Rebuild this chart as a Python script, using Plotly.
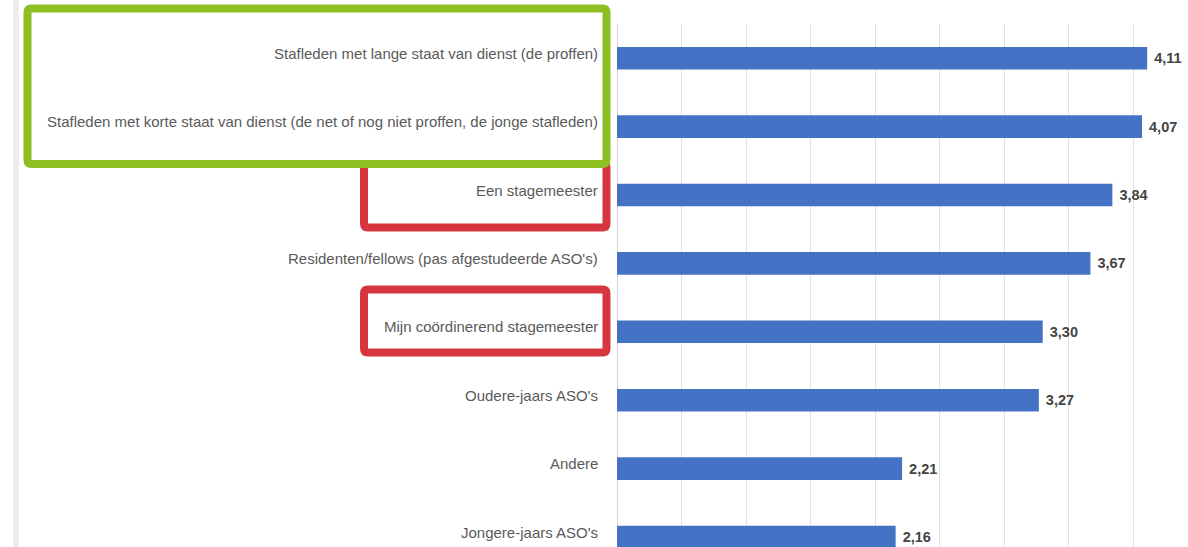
import plotly.graph_objects as go

categories = [
    "Stafleden met lange staat van dienst (de proffen)",
    "Stafleden met korte staat van dienst (de net of nog niet proffen, de jonge stafleden)",
    "Een stagemeester",
    "Residenten/fellows (pas afgestudeerde ASO's)",
    "Mijn coördinerend stagemeester",
    "Oudere-jaars ASO's",
    "Andere",
    "Jongere-jaars ASO's",
]
values = [4.11, 4.07, 3.84, 3.67, 3.30, 3.27, 2.21, 2.16]
value_labels = [" " + f"{v:.2f}".replace(".", ",") for v in values]

W, H = 1188, 547
L, T = 617, 24
PW, PH = W - L, H - T


def px(x):
    return (x - L) / PW


def py(y):
    return (H - y) / PH


def rounded_rect(x0, y0, x1, y1, r=4):
    pts = [
        f"M {px(x0 + r)},{py(y0)}",
        f"L {px(x1 - r)},{py(y0)}",
        f"Q {px(x1)},{py(y0)} {px(x1)},{py(y0 + r)}",
        f"L {px(x1)},{py(y1 - r)}",
        f"Q {px(x1)},{py(y1)} {px(x1 - r)},{py(y1)}",
        f"L {px(x0 + r)},{py(y1)}",
        f"Q {px(x0)},{py(y1)} {px(x0)},{py(y1 - r)}",
        f"L {px(x0)},{py(y0 + r)}",
        f"Q {px(x0)},{py(y0)} {px(x0 + r)},{py(y0)}",
        "Z",
    ]
    return " ".join(pts)


fig = go.Figure(
    go.Bar(
        x=values,
        y=categories,
        orientation="h",
        marker=dict(color="#4472C4", line=dict(width=0)),
        width=0.33,
        text=value_labels,
        textposition="outside",
        textfont=dict(family="Liberation Sans", size=14.5, color="#444444", weight="bold"),
        cliponaxis=False,
        hoverinfo="skip",
    )
)

annotations = [
    dict(
        xref="paper", yref="y", x=0, y=c, text=c, showarrow=False,
        xanchor="right", yanchor="middle", xshift=-17, yshift=5,
        font=dict(family="Liberation Sans", size=15, color="#5A5A5A"),
    )
    for c in categories
]

red = "#D8363E"
green = "#8DBE22"
shapes = [
    dict(type="line", xref="paper", yref="paper", x0=px(16), x1=px(16), y0=py(0), y1=py(H),
         line=dict(color="#EDEDED", width=6), layer="above"),
    dict(type="path", xref="paper", yref="paper", path=rounded_rect(364, 164, 606.5, 227.5),
         line=dict(color=red, width=8), layer="above"),
    dict(type="path", xref="paper", yref="paper", path=rounded_rect(364, 289.5, 606.5, 352.5),
         line=dict(color=red, width=8), layer="above"),
    dict(type="path", xref="paper", yref="paper", path=rounded_rect(27.5, 8.5, 606.5, 164),
         line=dict(color=green, width=8), layer="above"),
]

fig.update_layout(
    width=W,
    height=H,
    margin=dict(l=L, r=0, t=T, b=0, pad=0),
    paper_bgcolor="white",
    plot_bgcolor="white",
    showlegend=False,
    shapes=shapes,
    annotations=annotations,
    xaxis=dict(
        range=[0, PW / 129.0],
        dtick=0.5,
        tick0=0,
        showgrid=True,
        gridcolor="#E0E0E0",
        gridwidth=1,
        zeroline=True,
        zerolinecolor="#D6D6D6",
        zerolinewidth=1,
        showticklabels=False,
        ticks="",
        showline=False,
    ),
    yaxis=dict(
        type="category",
        categoryorder="array",
        categoryarray=categories,
        range=[7 + (H - 537) / 68.4, -0.5],
        showgrid=False,
        ticks="",
        showline=False,
        showticklabels=False,
    ),
)

fig.write_html("out.html")
